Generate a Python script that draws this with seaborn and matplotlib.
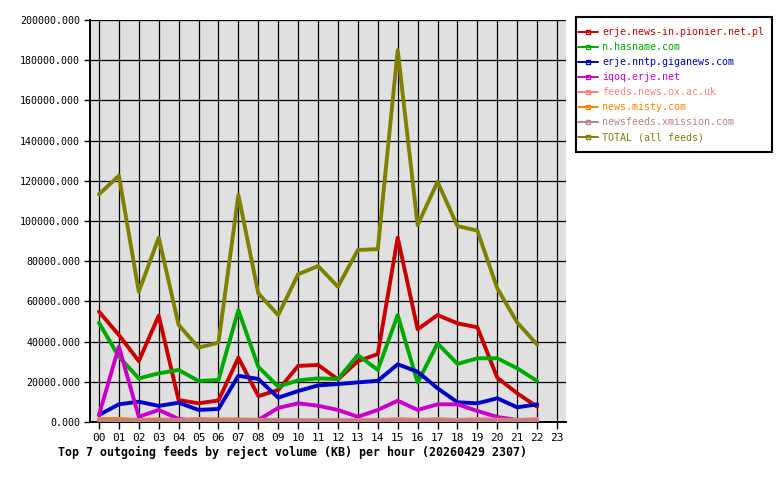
import matplotlib
matplotlib.use("Agg")
import matplotlib.pyplot as plt
from matplotlib.lines import Line2D
from matplotlib.patches import Rectangle
from matplotlib.ticker import FuncFormatter, MultipleLocator
import seaborn as sns
import pandas as pd

hour_labels = ["%02d" % h for h in range(24)]
hours = list(range(23))

feeds = [
    "erje.news-in.pionier.net.pl",
    "n.hasname.com",
    "erje.nntp.giganews.com",
    "iqoq.erje.net",
    "feeds.news.ox.ac.uk",
    "news.misty.com",
    "newsfeeds.xmission.com",
    "TOTAL (all feeds)",
]
colors = ["#CC0000", "#00AA00", "#0000CC", "#CC00CC",
          "#FF8080", "#FF8000", "#C08080", "#808000"]

pionier = [54900, 43300, 30300, 52900, 10900, 9300, 10700, 32000, 12900, 15900,
           27900, 28400, 21200, 30300, 33800, 91700, 46100, 53200, 49100, 47100,
           22000, 14300, 7600]
hasname = [49400, 32500, 21700, 24200, 25900, 20400, 20900, 55700, 27500, 17600,
           20700, 21700, 21400, 33300, 25900, 53200, 19600, 39100, 28900, 31700,
           31700, 26700, 20400]
giganews = [3500, 8800, 10100, 8000, 9600, 6000, 6500, 23000, 21400, 12100,
            15400, 18200, 18900, 19700, 20500, 28700, 25000, 16800, 9800, 9300,
            11800, 7300, 8800]
iqoq = [3500, 37500, 2600, 6000, 1500, 500, 500, 500, 1000, 7000,
        9300, 8100, 6000, 2600, 6000, 10600, 6000, 8800, 8800, 5500,
        2500, 1000, 500]
oxac = [800, 800, 800, 800, 900, 1500, 1000, 900, 900, 800,
        800, 800, 900, 900, 1000, 1500, 1000, 1500, 1000, 1500,
        1200, 1000, 1500]
misty = [1500, 1500, 1000, 1300, 1000, 1200, 1300, 1300, 1000, 600,
         500, 500, 300, 300, 300, 300, 300, 300, 300, 300,
         300, 300, 300]
xmission = [800, 800, 800, 900, 900, 1000, 900, 900, 1200, 900,
            800, 800, 800, 800, 800, 900, 900, 1000, 800, 900,
            900, 900, 800]
total = [113300, 122500, 64800, 91700, 48300, 37000, 39500, 113000, 64000, 53200,
         73500, 77600, 67300, 85600, 86000, 185000, 98000, 119500, 97500, 95200,
         66500, 49500, 38500]

series = [pionier, hasname, giganews, iqoq, oxac, misty, xmission, total]

df = pd.concat(
    [pd.DataFrame({"hour": hours, "value": vals, "feed": name})
     for name, vals in zip(feeds, series)],
    ignore_index=True,
)

sns.set_style("white")
plt.rcParams["font.family"] = ["DejaVu Sans Mono"]

fig = plt.figure(figsize=(7.8, 4.8), dpi=100)
W, H = 780, 480
ax = fig.add_axes([90 / W, 1 - 422 / H, (566 - 90) / W, (422 - 20) / H])
ax.set_facecolor("#E0E0E0")

sns.lineplot(data=df, x="hour", y="value", hue="feed", hue_order=feeds,
             palette=colors, sort=False, legend=False, linewidth=2.8,
             ax=ax, zorder=3)

ax.set_xlim(-0.45, 23.45)
ax.set_ylim(0, 200000)
ax.set_xticks(range(24))
ax.set_xticklabels(hour_labels)
ax.yaxis.set_major_locator(MultipleLocator(20000))
ax.yaxis.set_major_formatter(FuncFormatter(lambda v, p: "%.3f" % v))
ax.grid(True, color="black", linewidth=0.9, zorder=1)
ax.set_axisbelow(True)
for s in ["top", "right"]:
    ax.spines[s].set_visible(False)
for s in ["left", "bottom"]:
    ax.spines[s].set_color("black")
    ax.spines[s].set_linewidth(1.4)
ax.tick_params(axis="x", direction="out", length=5, width=1, pad=3,
               labelsize=8, colors="black", bottom=True)
ax.tick_params(axis="y", direction="out", length=4, width=1, pad=3,
               labelsize=7.2, colors="black", left=True)
ax.set_xlabel("")
ax.set_ylabel("")

fig.text(58 / W, 1 - 452 / H,
         "Top 7 outgoing feeds by reject volume (KB) per hour (20260429 2307)",
         ha="left", va="center", fontsize=8.35, fontweight="bold", color="black")

# legend frame drawn as figure rectangle
fig.patches.append(Rectangle((576 / W, 1 - 152 / H), (772 - 576) / W, (152 - 17) / H,
                             transform=fig.transFigure, facecolor="white",
                             edgecolor="black", linewidth=1.5, zorder=0))

handles = [Line2D([0], [0], color=c, linewidth=1.4, marker="s", markersize=2.6,
                  markerfacecolor="none", markeredgecolor=c, markeredgewidth=1.0)
           for c in colors]
leg = fig.legend(handles, feeds, loc="upper left",
                 bbox_to_anchor=(578 / W, 1 - 27 / H), borderaxespad=0,
                 fontsize=7.2, frameon=False, handlelength=2.0,
                 handletextpad=0.4, labelspacing=0.5, borderpad=0.0)
for t, c in zip(leg.get_texts(), colors):
    t.set_color(c)

fig.savefig("out.png", dpi=100, facecolor="white")
